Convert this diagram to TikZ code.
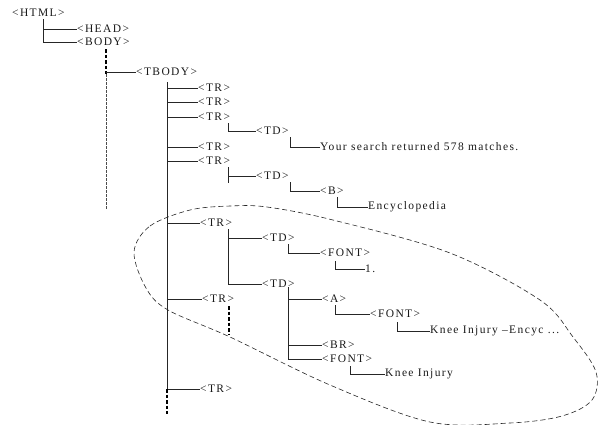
\documentclass[tikz,border=0pt]{standalone}
\usepackage{fontspec}
\setmainfont{Liberation Serif}[LetterSpace=12]
\begin{document}
\begin{tikzpicture}[x=1pt,y=-1pt,
    htmltag/.style={anchor=west, inner sep=0pt, font=\fontsize{11.5}{13}\selectfont, text=black!90},
    branch/.style={line width=0.9pt, black!85},
    trail/.style={line width=1.4pt, dash pattern=on 3.5pt off 2pt, black},
    fade/.style={line width=0.6pt, dash pattern=on 2.5pt off 1.5pt, black!70},
    ringline/.style={line width=0.6pt, dash pattern=on 5pt off 3pt, black!85}
]
\useasboundingbox (0,0) rectangle (599,424);

% tags
\node[htmltag] (html) at (12,13) {<HTML>};
\node[htmltag] (head) at (77,29) {<HEAD>};
\node[htmltag] (body) at (77,42) {<BODY>};
\node[htmltag] (tbody) at (136,72) {<TBODY>};
\node[htmltag] (tr1) at (198,88) {<TR>};
\node[htmltag] (tr2) at (198,102) {<TR>};
\node[htmltag] (tr3) at (198,117) {<TR>};
\node[htmltag] (td1) at (256,131) {<TD>};
\node[htmltag] (search) at (320,147) {Your search returned 578 matches.};
\node[htmltag] (tr4) at (198,147) {<TR>};
\node[htmltag] (tr5) at (198,161) {<TR>};
\node[htmltag] (td2) at (256,176) {<TD>};
\node[htmltag] (b) at (320,191) {<B>};
\node[htmltag] (ency) at (368,207) {Encyclopedia};
\node[htmltag] (tr6) at (200,223) {<TR>};
\node[htmltag] (td3) at (262,238) {<TD>};
\node[htmltag] (font1) at (320,253) {<FONT>};
\node[htmltag] (one) at (365,269) {1.};
\node[htmltag] (td4) at (262,284) {<TD>};
\node[htmltag] (tr7) at (202,299) {<TR>};
\node[htmltag] (a) at (322,299) {<A>};
\node[htmltag] (font2) at (370,314) {<FONT>};
\node[htmltag] (knee1) at (430,331) {Knee Injury –Encyc ...};
\node[htmltag] (br) at (322,345) {<BR>};
\node[htmltag] (font3) at (322,359) {<FONT>};
\node[htmltag] (knee2) at (385,374) {Knee Injury};
\node[htmltag] (tr8) at (200,389) {<TR>};

% stems
\coordinate (html-stem) at (43,19);
\coordinate (body-stem) at (106,49);
\coordinate (body-mid) at (106,74);
\coordinate (body-end) at (106,210);
\coordinate (tbody-stem) at (167,82);
\coordinate (tbody-end) at (167,414);
\coordinate (tr3-stem) at (228,123);
\coordinate (td1-stem) at (290,137);
\coordinate (tr5-stem) at (228,167);
\coordinate (tr5-end) at (228,183);
\coordinate (td2-stem) at (290,182);
\coordinate (b-stem) at (337,197);
\coordinate (tr6-stem) at (228,229);
\coordinate (td3-stem) at (288,244);
\coordinate (font1-stem) at (335,261);
\coordinate (td4-stem) at (288,287);
\coordinate (tr7-stem) at (229,306);
\coordinate (tr7-end) at (229,334);
\coordinate (a-stem) at (335,305);
\coordinate (font2-stem) at (397,322);
\coordinate (font3-stem) at (350,366);

\draw[branch] (html-stem) |- (body.west);
\draw[branch] (html-stem |- head.west) -- (head.west);

\draw[trail] (body-stem) -- (body-mid);
\draw[fade] (body-mid) -- (body-end);
\draw[branch] (body-stem |- tbody.west) -- (tbody.west);

\draw[branch] (tbody-stem) |- (tr8.west);
\foreach \r in {1,...,7}
    \draw[branch] (tbody-stem |- tr\r.west) -- (tr\r.west);
\draw[trail] (tbody-stem |- tr8.west) -- (tbody-end);

\draw[branch] (tr3-stem) |- (td1.west);
\draw[branch] (td1-stem) |- (search.west);
\draw[branch] (tr5-stem) -- (tr5-end);
\draw[branch] (tr5-stem |- td2.west) -- (td2.west);
\draw[branch] (td2-stem) |- (b.west);
\draw[branch] (b-stem) |- (ency.west);
\draw[branch] (tr6-stem) |- (td4.west);
\draw[branch] (tr6-stem |- td3.west) -- (td3.west);
\draw[branch] (td3-stem) |- (font1.west);
\draw[branch] (font1-stem) |- (one.west);
\draw[branch] (td4-stem) |- (font3.west);
\draw[branch] (td4-stem |- a.west) -- (a.west);
\draw[branch] (td4-stem |- br.west) -- (br.west);
\draw[branch] (a-stem) |- (font2.west);
\draw[branch] (font2-stem) |- (knee1.west);
\draw[branch] (font3-stem) |- (knee2.west);
\draw[trail] (tr7-stem) -- (tr7-end);

% selected region
\draw[ringline] plot[smooth cycle, tension=0.55] coordinates {
    (134,252) (150,226) (190,210) (230,206) (267,207) (333,220) (450,253)
    (540,300) (573,337) (596,372) (592,400) (562,416) (510,423) (430,422)
    (330,385) (230,337) (168,310) (146,288)};
\end{tikzpicture}
\end{document}
